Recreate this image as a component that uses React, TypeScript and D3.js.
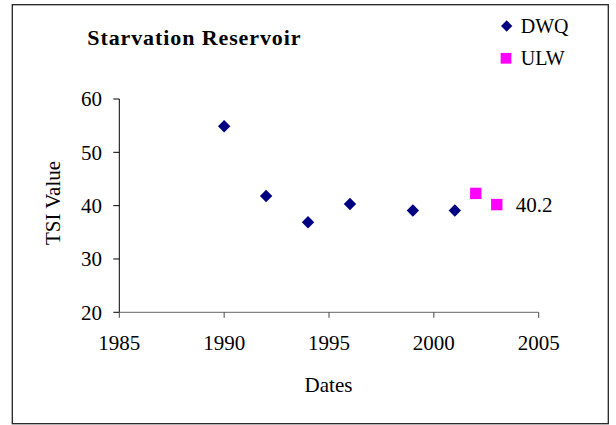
import React from "react";
import * as d3 from "d3";

const dwqYears = [1990, 1992, 1994, 1996, 1999, 2001];
const dwqValues = [54.9, 41.8, 36.9, 40.3, 39.1, 39.1];
const ulwYears = [2002, 2003];
const ulwValues = [42.3, 40.2];
const xTicks = [1985, 1990, 1995, 2000, 2005];
const yTicks = [20, 30, 40, 50, 60];
const title = "Starvation Reservoir";
const xTitle = "Dates";
const yTitle = "TSI Value";
const seriesNames = ["DWQ", "ULW"];
const dataLabel = "40.2";

const W = 616;
const H = 425;
const FONT = "'Liberation Serif', 'Times New Roman', serif";

export default function App() {
  const x = d3.scaleLinear().domain([1985, 2005]).range([119.3, 538.7]);
  const y = d3.scaleLinear().domain([20, 60]).range([312.3, 99]);
  const diamond = d3.symbol().type(d3.symbolDiamond2).size(98)();
  const square = d3.symbol().type(d3.symbolSquare).size(130)();
  const legDiamond = d3.symbol().type(d3.symbolDiamond2).size(82)();
  const legSquare = d3.symbol().type(d3.symbolSquare).size(115)();
  const x0 = x.range()[0];
  const x1 = x.range()[1];
  const y0 = y.range()[0];
  const y1 = y.range()[1];

  return (
    <svg
      width={W}
      height={H}
      style={{ position: "absolute", left: 0, top: 0, background: "#fff" }}
      fontFamily={FONT}
    >
      <rect x={0} y={0} width={W} height={H} fill="#fff" />
      <rect x={12.3} y={4.7} width={596} height={419} fill="none" stroke="#222" strokeWidth={1.3} />

      <text x={87.3} y={45} fontSize={22} fontWeight="bold" letterSpacing={0.9} fill="#000">
        {title}
      </text>

      {/* y axis */}
      <line x1={x0} x2={x0} y1={y1} y2={y0} stroke="#000" strokeWidth={1} />
      {yTicks.map((t) => (
        <g key={"y" + t}>
          <line x1={x0 - 6} x2={x0} y1={y(t)} y2={y(t)} stroke="#000" strokeWidth={1} />
          <text x={102} y={y(t)} dy="0.35em" textAnchor="end" fontSize={21} fill="#000">
            {t}
          </text>
        </g>
      ))}

      {/* x axis */}
      <line x1={x0} x2={x1} y1={y0} y2={y0} stroke="#666" strokeWidth={1} />
      {xTicks.map((t) => (
        <g key={"x" + t}>
          <line x1={x(t)} x2={x(t)} y1={y0} y2={y0 + 5.5} stroke="#444" strokeWidth={1} />
          <text x={x(t)} y={350} textAnchor="middle" fontSize={21} fill="#000">
            {t}
          </text>
        </g>
      ))}

      <text x={328.5} y={391.7} textAnchor="middle" fontSize={21} fill="#000">
        {xTitle}
      </text>
      <text
        transform={`translate(59.5, 203) rotate(-90)`}
        textAnchor="middle"
        fontSize={21}
        fill="#000"
      >
        {yTitle}
      </text>

      {dwqYears.map((yr, i) => (
        <path key={"d" + yr} d={diamond} transform={`translate(${x(yr)}, ${y(dwqValues[i])})`} fill="#000080" />
      ))}
      {ulwYears.map((yr, i) => (
        <path key={"u" + yr} d={square} transform={`translate(${x(yr)}, ${y(ulwValues[i])})`} fill="#FF00FF" />
      ))}
      <text
        x={x(ulwYears[1]) + 19}
        y={y(ulwValues[1])}
        dy="0.35em"
        fontSize={21}
        fill="#000"
      >
        {dataLabel}
      </text>

      {/* legend */}
      <path d={legDiamond} transform="translate(506.7, 26)" fill="#000080" />
      <text x={520.7} y={33} fontSize={20} fill="#000">
        {seriesNames[0]}
      </text>
      <path d={legSquare} transform="translate(506, 58.3)" fill="#FF00FF" />
      <text x={520.7} y={65} fontSize={20} fill="#000">
        {seriesNames[1]}
      </text>
    </svg>
  );
}
